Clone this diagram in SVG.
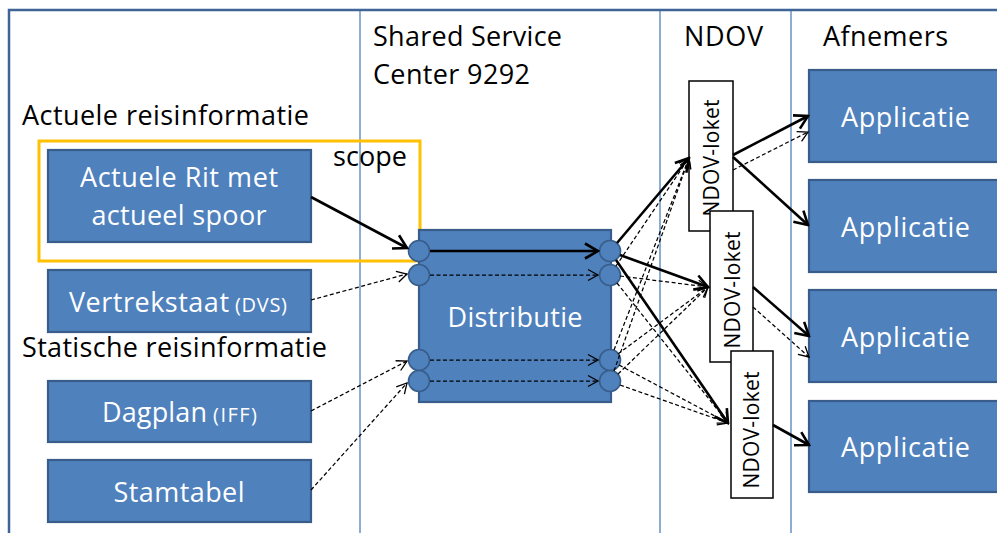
<svg xmlns="http://www.w3.org/2000/svg" width="997" height="533" viewBox="0 0 997 533">
<style>
text{font-family:"Open Sans","Liberation Sans",sans-serif;}
.lbl{font-size:27px;fill:#000;}
.w{font-size:27px;fill:#fff;}
.sm{font-size:20px;}
.box{fill:#4f81bd;stroke:#385d8a;stroke-width:2.2;}
.port{fill:#4f81bd;stroke:#385d8a;stroke-width:1.6;}
.col{stroke:#4f81bd;stroke-width:1.3;fill:none;}
.loket{fill:#fff;stroke:#000;stroke-width:1.5;}
.lk{font-size:21px;fill:#000;}
.s{stroke:#000;stroke-width:2.6;fill:none;marker-end:url(#ah);}
.d{stroke:#000;stroke-width:1.25;fill:none;stroke-dasharray:4 2.5;marker-end:url(#ahd);}
</style>
<defs>
<marker id="ah" markerUnits="userSpaceOnUse" viewBox="-16 -10 18 20" markerWidth="18" markerHeight="20" refX="0" refY="0" orient="auto">
<path d="M-13,-7.5 L0,0 L-13,7.5" fill="none" stroke="#000" stroke-width="2.6"/>
</marker>
<marker id="ahd" markerUnits="userSpaceOnUse" viewBox="-12 -7 14 14" markerWidth="14" markerHeight="14" refX="0" refY="0" orient="auto">
<path d="M-10,-5.5 L0,0 L-10,5.5" fill="none" stroke="#000" stroke-width="1.3"/>
</marker>
</defs>
<rect x="0" y="0" width="997" height="533" fill="#fff"/>
<g id="frame">
<rect x="9" y="10" width="1010" height="560" fill="none" stroke="#3f6597" stroke-width="2.5"/>
<line class="col" x1="360" y1="11" x2="360" y2="533"/>
<line class="col" x1="660" y1="11" x2="660" y2="533"/>
<line class="col" x1="791" y1="11" x2="791" y2="533"/>
</g>
<g id="headers">
<text class="lbl" x="373" y="46" textLength="189">Shared Service</text>
<text class="lbl" x="373" y="84" textLength="157">Center 9292</text>
<text class="lbl" x="684" y="46" textLength="79">NDOV</text>
<text class="lbl" x="823" y="46" textLength="125">Afnemers</text>
<text class="lbl" x="22" y="125" textLength="287">Actuele reisinformatie</text>
<text class="lbl" x="22" y="357" textLength="305">Statische reisinformatie</text>
</g>
<g id="scope">
<rect x="39" y="141" width="381" height="120" fill="none" stroke="#ffc000" stroke-width="3"/>
<text class="lbl" x="333" y="166" textLength="74">scope</text>
</g>
<g id="actuele-rit">
<rect class="box" x="48" y="150" width="263" height="92"/>
<text class="w" x="179" y="187" text-anchor="middle" textLength="198">Actuele Rit met</text>
<text class="w" x="179" y="225" text-anchor="middle" textLength="175">actueel spoor</text>
</g>
<g id="vertrekstaat">
<rect class="box" x="48" y="270" width="263" height="62"/>
<text class="w" x="69" y="312"><tspan textLength="160">Vertrekstaat</tspan><tspan class="sm" x="235" textLength="52">(DVS)</tspan></text>
</g>
<g id="dagplan">
<rect class="box" x="48" y="381" width="263" height="61"/>
<text class="w" x="102" y="422"><tspan textLength="105">Dagplan</tspan><tspan class="sm" x="213" textLength="44">(IFF)</tspan></text>
</g>
<g id="stamtabel">
<rect class="box" x="48" y="460" width="263" height="62"/>
<text class="w" x="179" y="502" text-anchor="middle" textLength="131">Stamtabel</text>
</g>
<g id="distributie">
<rect class="box" x="419" y="230" width="192" height="172"/>
<text class="w" x="515" y="327" text-anchor="middle" textLength="135">Distributie</text>
<circle class="port" cx="419" cy="251" r="10.5"/>
<circle class="port" cx="419" cy="275" r="10.5"/>
<circle class="port" cx="419" cy="360" r="10.5"/>
<circle class="port" cx="419" cy="381" r="10.5"/>
<circle class="port" cx="610" cy="251" r="10.5"/>
<circle class="port" cx="610" cy="275" r="10.5"/>
<circle class="port" cx="610" cy="360" r="10.5"/>
<circle class="port" cx="610" cy="381" r="10.5"/>
</g>
<g id="ndov-loket-1">
<rect class="loket" x="689" y="81" width="44" height="150"/>
<text class="lk" transform="translate(719,158) rotate(-90)" text-anchor="middle" textLength="117">NDOV-loket</text>
</g>
<g id="ndov-loket-2">
<rect class="loket" x="710" y="211" width="43" height="151"/>
<text class="lk" transform="translate(740,290) rotate(-90)" text-anchor="middle" textLength="117">NDOV-loket</text>
</g>
<g id="ndov-loket-3">
<rect class="loket" x="731" y="351" width="42" height="147"/>
<text class="lk" transform="translate(759,430) rotate(-90)" text-anchor="middle" textLength="117">NDOV-loket</text>
</g>
<g id="app-1">
<rect class="box" x="809" y="70" width="200" height="92"/>
<text class="w" x="841" y="127" textLength="129">Applicatie</text>
</g>
<g id="app-2">
<rect class="box" x="809" y="180" width="200" height="92"/>
<text class="w" x="841" y="237" textLength="129">Applicatie</text>
</g>
<g id="app-3">
<rect class="box" x="809" y="290" width="200" height="92"/>
<text class="w" x="841" y="347" textLength="129">Applicatie</text>
</g>
<g id="app-4">
<rect class="box" x="809" y="401" width="200" height="91"/>
<text class="w" x="841" y="457" textLength="129">Applicatie</text>
</g>
<g id="connectors">
<line class="s" x1="311" y1="197" x2="407" y2="248"/>
<line class="d" x1="311" y1="300" x2="407" y2="274"/>
<line class="d" x1="311" y1="411" x2="407" y2="361"/>
<line class="d" x1="311" y1="490" x2="407" y2="383"/>
<line class="s" x1="430" y1="251" x2="598" y2="251"/>
<line class="d" x1="430" y1="275" x2="598" y2="275"/>
<line class="d" x1="430" y1="360" x2="598" y2="360"/>
<line class="d" x1="430" y1="381" x2="598" y2="381"/>
<line class="s" x1="617" y1="243" x2="689" y2="158"/>
<line class="s" x1="620" y1="255" x2="708" y2="287"/>
<line class="s" x1="616" y1="260" x2="728" y2="423"/>
<line class="d" x1="616" y1="266" x2="689" y2="158"/>
<line class="d" x1="620" y1="276" x2="708" y2="287"/>
<line class="d" x1="617" y1="283" x2="728" y2="423"/>
<line class="d" x1="614" y1="350" x2="689" y2="158"/>
<line class="d" x1="618" y1="354" x2="708" y2="287"/>
<line class="d" x1="619" y1="365" x2="728" y2="423"/>
<line class="d" x1="614" y1="371" x2="689" y2="158"/>
<line class="d" x1="618" y1="374" x2="708" y2="287"/>
<line class="d" x1="620" y1="385" x2="728" y2="423"/>
<line class="s" x1="733" y1="155" x2="808" y2="116"/>
<line class="d" x1="733" y1="170" x2="808" y2="132"/>
<line class="s" x1="733" y1="157" x2="808" y2="225"/>
<line class="s" x1="753" y1="287" x2="809" y2="336"/>
<line class="d" x1="753" y1="307" x2="809" y2="357"/>
<line class="s" x1="773" y1="425" x2="809" y2="445"/>
</g>
</svg>
